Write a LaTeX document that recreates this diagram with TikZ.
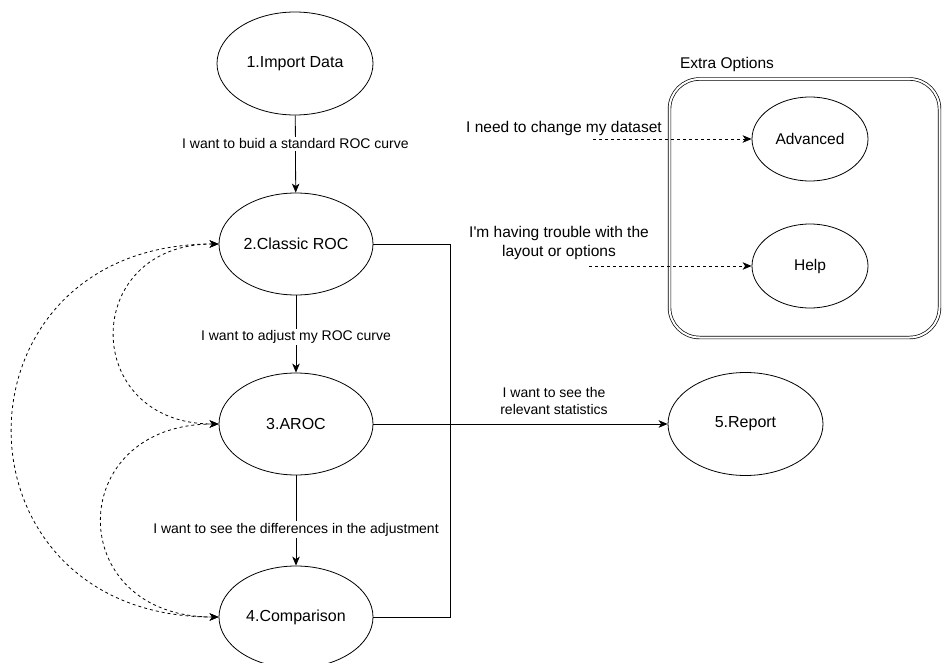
\documentclass[tikz,border=0pt]{standalone}
\usepackage{fontspec}
\setmainfont{Liberation Sans}
\usetikzlibrary{shapes.geometric,arrows.meta}
\begin{document}
\begin{tikzpicture}[x=1pt,y=-1pt,
  tip/.style={},
  state/.style={ellipse, draw, line width=0.8pt, inner sep=0pt, minimum width=154pt, minimum height=102pt, font=\fontsize{16}{19}\selectfont},
  opt/.style={ellipse, draw, line width=0.8pt, inner sep=0pt, minimum width=116pt, minimum height=84pt, font=\fontsize{15.5}{19}\selectfont},
  flow/.style={draw, line width=0.8pt, -{Stealth[length=9pt,width=7.5pt,inset=2.5pt]}},
  loopline/.style={draw, line width=0.8pt, dash pattern=on 3pt off 3pt, {Stealth[length=9pt,width=7.5pt,inset=2.5pt]}-{Stealth[length=9pt,width=7.5pt,inset=2.5pt]}},
  dashflow/.style={draw, line width=0.8pt, dash pattern=on 3pt off 3pt, -{Stealth[length=9pt,width=7.5pt,inset=2.5pt]}},
  elabel/.style={fill=white, inner sep=1.5pt, font=\fontsize{14}{17}\selectfont},
  note/.style={align=center, inner sep=0pt, font=\fontsize{15.5}{19}\selectfont},
  smallnote/.style={align=center, inner sep=0pt, font=\fontsize{14}{17}\selectfont}
]
\useasboundingbox (0,0) rectangle (942,663);

% main states
\node[state, minimum width=156pt, minimum height=103pt] (imp) at (295,63.5) {1.Import Data};
\node[state] (cls) at (296,244) {2.Classic ROC};
\node[state] (aroc) at (296,424) {3.AROC};
\node[state] (cmp) at (296,617) {4.Comparison};
\node[state, minimum width=155pt, minimum height=103pt] (rep) at (745.5,424) {5.Report};

% vertical flow
\draw[flow] (imp) -- node[elabel, pos=0.37] (l1) {I want to buid a standard ROC curve} (cls);
\draw[flow] (cls) -- node[elabel, pos=0.54] (l2) {I want to adjust my ROC curve} (aroc);
\draw[flow] (aroc) -- node[elabel, pos=0.6] (l3) {I want to see the differences in the adjustment} (cmp);

% bus line on the right
\coordinate (bus) at (450,244);
\draw[line width=0.8pt] (cls.east) -- (bus) |- (cmp.east);

% to report
\draw[flow] (aroc.east) -- (rep.west);
\node[smallnote] (l4) at (554,400.5) {I want to see the\\relevant statistics};

% dashed loops on the left
\draw[loopline] (cls.west) .. controls (80,244) and (80,424) .. (aroc.west);
\draw[loopline] (aroc.west) .. controls (63,424) and (63,617) .. (cmp.west);
\draw[loopline] (cls.west) .. controls (-56,244) and (-56,617) .. (cmp.west);

% extra options
\node[draw, double, double distance=2pt, line width=0.7pt, rounded corners=30pt, minimum width=270pt, minimum height=258.5pt, inner sep=0pt] (box) at (804.5,208.25) {};
\node[note] (boxlabel) at (727,64) {Extra Options};
\node[opt] (adv) at (810,139) {Advanced};
\node[opt] (hlp) at (810,266) {Help};

\coordinate (s1) at (593,139);
\coordinate (s2) at (589,266);
\draw[dashflow] (s1) -- (adv.west);
\draw[dashflow] (s2) -- (hlp.west);
\node[note] (n1) at (564,128) {I need to change my dataset};
\node[note] (n2) at (559,242.5) {I\textquotesingle m having trouble with the\\layout or options};
\end{tikzpicture}
\end{document}
